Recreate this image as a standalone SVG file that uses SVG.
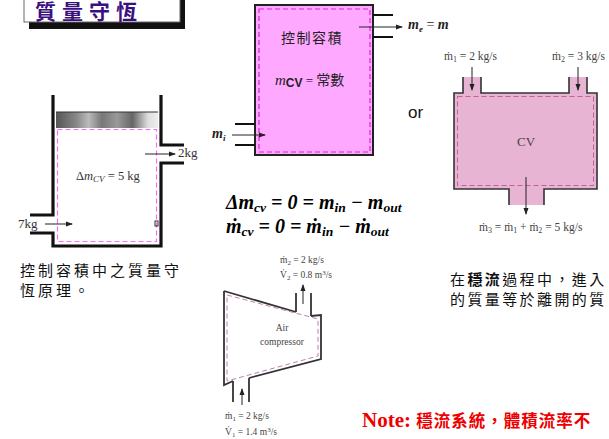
<svg xmlns="http://www.w3.org/2000/svg" width="609" height="439" viewBox="0 0 609 439">
  <style>
    .wall { fill: none; stroke: #111; stroke-width: 3.2; }
    .thin { fill: none; stroke: #111; stroke-width: 2; }
    .flow { stroke: #222; stroke-width: 1; fill: none; marker-end: url(#head); }
    .serif { font-family: "Liberation Serif", "Times New Roman", serif; }
    .cjk { font-family: "Noto Sans CJK TC", "Noto Sans CJK SC", sans-serif; }
    .small { font-family: "Liberation Serif", serif; font-size: 9.5px; fill: #444; }
    .mid { font-family: "Liberation Serif", serif; font-size: 11.5px; fill: #444; }
    .eq { font-family: "Liberation Serif", serif; font-size: 20px; font-weight: bold; font-style: italic; fill: #000; }
  </style>
  <defs>
    <marker id="head" markerWidth="7" markerHeight="6" refX="6" refY="3" orient="auto" markerUnits="userSpaceOnUse">
      <path d="M0,0.5 L7,3 L0,5.5 Z" fill="#222"/>
    </marker>
    <linearGradient id="piston" x1="0" y1="0" x2="1" y2="0">
      <stop offset="0" stop-color="#555"/>
      <stop offset="0.2" stop-color="#888"/>
      <stop offset="0.32" stop-color="#bbb"/>
      <stop offset="0.45" stop-color="#777"/>
      <stop offset="0.6" stop-color="#999"/>
      <stop offset="0.75" stop-color="#666"/>
      <stop offset="0.9" stop-color="#ddd"/>
      <stop offset="1" stop-color="#eee"/>
    </linearGradient>
  </defs>

  <rect width="609" height="439" fill="#fff"/>

  <!-- title plate with drop shadow -->
  <g id="title">
    <rect x="29" y="-5" width="156" height="34" fill="#111"/>
    <rect x="24" y="-8" width="156" height="30" fill="#fff" stroke="#666" stroke-width="1"/>
    <text x="35" y="18.5" class="cjk" font-size="21" font-weight="bold" fill="#3a1080" letter-spacing="6">質量守恆</text>
  </g>

  <!-- piston-cylinder control volume -->
  <g id="piston-cylinder">
    <rect x="56" y="112" width="102" height="16" fill="url(#piston)"/>
    <line x1="56" y1="112" x2="158" y2="112" stroke="#333" stroke-width="1"/>
    <path class="wall" d="M53,95 V215 H30 M30,233 H53 V246 H161 V163 H184 M184,145 H161 V95"/>
    <rect x="57.5" y="129.5" width="99" height="112" fill="none" stroke="#ff66ff" stroke-width="1.2" stroke-dasharray="5,3"/>
    <rect x="155" y="221" width="3" height="5" fill="none" stroke="#333" stroke-width="1"/>
    <line class="flow" x1="145" y1="154" x2="175" y2="154"/>
    <line class="flow" x1="45" y1="224" x2="72" y2="224"/>
    <text x="178" y="157" class="serif" font-size="13" fill="#333">2kg</text>
    <text x="18" y="228" class="serif" font-size="13" fill="#333">7kg</text>
    <text x="76" y="180" class="serif" font-size="12.5" fill="#333">Δ<tspan font-style="italic">m<tspan font-size="9" dy="2">CV</tspan></tspan><tspan dy="-2"> = 5 kg</tspan></text>
  </g>
  <g id="caption-left" class="cjk" font-size="15" fill="#111" letter-spacing="3">
    <text x="20" y="276">控制容積中之質量守</text>
    <text x="20" y="296">恆原理。</text>
  </g>

  <!-- general control volume -->
  <g id="cv-general">
    <rect x="255" y="5" width="118" height="150" fill="#ffa8ff" stroke="#222" stroke-width="2"/>
    <rect x="259" y="9" width="111" height="143" fill="none" stroke="#e020e0" stroke-width="1.2" stroke-dasharray="5,3"/>
    <line class="thin" x1="373" y1="15" x2="393" y2="15"/>
    <line class="thin" x1="373" y1="37" x2="393" y2="37"/>
    <line class="thin" x1="235" y1="124" x2="255" y2="124"/>
    <line class="thin" x1="235" y1="145" x2="255" y2="145"/>
    <line class="flow" x1="359" y1="27" x2="402" y2="27"/>
    <line class="flow" x1="232" y1="135" x2="265" y2="135"/>
    <text x="281" y="43" class="cjk" font-size="14" fill="#222" letter-spacing="1.5">控制容積</text>
    <text x="275" y="85" fill="#222"><tspan class="serif" font-style="italic" font-size="15">m</tspan><tspan font-family="Liberation Sans, sans-serif" font-weight="bold" font-size="12" dy="2">CV</tspan><tspan class="serif" font-size="13" dy="-2"> = </tspan><tspan class="cjk" font-size="14">常數</tspan></text>
    <text x="408" y="29" class="serif" font-size="14" font-style="italic" font-weight="bold" fill="#222">m<tspan font-size="9" dy="3">e</tspan><tspan dy="-3" font-style="normal" font-weight="normal"> = </tspan>m</text>
    <text x="212" y="138" class="serif" font-size="14" font-style="italic" font-weight="bold" fill="#222">m<tspan font-size="9" dy="3">i</tspan></text>
  </g>

  <text x="408" y="118" font-family="Liberation Sans, Arial, sans-serif" font-size="17" fill="#111">or</text>

  <!-- mixing chamber -->
  <g id="mixing-chamber">
    <path d="M463,77 V93 H454 V189 H509 V205 H544 V189 H597 V93 H587 V77 H569 V93 H481 V77 Z" fill="#e8b4d4"/>
    <path d="M463,77 V93 H454 V189 H509 V205 M544,205 V189 H597 V93 H587 V77 M569,77 V93 H481 V77" fill="none" stroke="#333" stroke-width="1.6"/>
    <rect x="457.5" y="96.5" width="136" height="89" fill="none" stroke="#cc5a98" stroke-width="1" stroke-dasharray="5,3"/>
    <line class="flow" x1="472" y1="67" x2="472" y2="90"/>
    <line class="flow" x1="578" y1="67" x2="578" y2="90"/>
    <line class="flow" x1="526" y1="177" x2="526" y2="214"/>
    <text x="526" y="146" text-anchor="middle" class="serif" font-size="13" fill="#444">CV</text>
    <text x="444" y="60" class="mid">ṁ<tspan font-size="8" dy="2">1</tspan><tspan dy="-2"> = 2 kg/s</tspan></text>
    <text x="552" y="60" class="mid">ṁ<tspan font-size="8" dy="2">2</tspan><tspan dy="-2"> = 3 kg/s</tspan></text>
    <text x="479" y="231" class="mid">ṁ<tspan font-size="8" dy="2">3</tspan><tspan dy="-2"> = ṁ</tspan><tspan font-size="8" dy="2">1</tspan><tspan dy="-2"> + ṁ</tspan><tspan font-size="8" dy="2">2</tspan><tspan dy="-2"> = 5 kg/s</tspan></text>
  </g>

  <!-- mass balance equations -->
  <g id="equations">
    <text x="226" y="209" class="eq">Δm<tspan font-size="13.5" dy="3">cv</tspan><tspan dy="-3"> = 0 = m</tspan><tspan font-size="13.5" dy="3">in</tspan><tspan dy="-3"> − m</tspan><tspan font-size="13.5" dy="3">out</tspan></text>
    <text x="226" y="233" class="eq">ṁ<tspan font-size="13.5" dy="3">cv</tspan><tspan dy="-3"> = 0 = ṁ</tspan><tspan font-size="13.5" dy="3">in</tspan><tspan dy="-3"> − ṁ</tspan><tspan font-size="13.5" dy="3">out</tspan></text>
  </g>

  <!-- air compressor -->
  <g id="air-compressor">
    <path d="M224,291 L296,312 M311,316 L321,315 V359 L249,378 M233,381 L224,385 V291" fill="none" stroke="#333" stroke-width="1.8"/>
    <path d="M296,312 V293 M311,293 V316 M233,381 V402 M249,378 V402" fill="none" stroke="#333" stroke-width="1.8"/>
    <path d="M227,295 L318,319 V356 L227,381 Z" fill="none" stroke="#c080b0" stroke-width="1" stroke-dasharray="5,3"/>
    <line class="flow" x1="242" y1="405" x2="242" y2="389"/>
    <line class="flow" x1="303" y1="304" x2="303" y2="285"/>
    <text x="282" y="331" text-anchor="middle" class="small" font-size="10">Air</text>
    <text x="282" y="345" text-anchor="middle" class="small" font-size="10">compressor</text>
    <text x="280" y="263" class="small">ṁ<tspan font-size="7" dy="2">2</tspan><tspan dy="-2"> = 2 kg/s</tspan></text>
    <text x="280" y="278" class="small">V̇<tspan font-size="7" dy="2">2</tspan><tspan dy="-2"> = 0.8 m</tspan><tspan font-size="7" dy="-3">3</tspan><tspan dy="3">/s</tspan></text>
    <text x="225" y="419" class="small">ṁ<tspan font-size="7" dy="2">1</tspan><tspan dy="-2"> = 2 kg/s</tspan></text>
    <text x="225" y="435" class="small">V̇<tspan font-size="7" dy="2">1</tspan><tspan dy="-2"> = 1.4 m</tspan><tspan font-size="7" dy="-3">3</tspan><tspan dy="3">/s</tspan></text>
  </g>

  <!-- steady-flow remarks -->
  <g id="caption-right" class="cjk" font-size="15" fill="#111" letter-spacing="2.4">
    <text x="450" y="285">在<tspan font-weight="bold">穩流</tspan>過程中，進入</text>
    <text x="450" y="305">的質量等於離開的質</text>
  </g>
  <g id="note">
    <text x="362" y="427" fill="#ee0000" font-weight="bold"><tspan class="serif" font-size="21">Note: </tspan><tspan class="cjk" font-size="16.5" letter-spacing="1">穩流系統，體積流率不</tspan></text>
  </g>
</svg>
